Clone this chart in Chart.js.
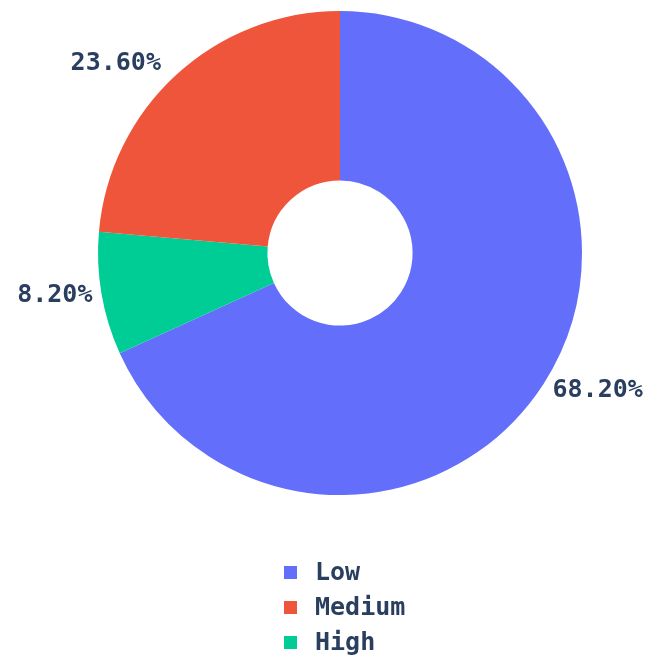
<!DOCTYPE html>
<html>
<head>
<meta charset="utf-8">
<script src="https://cdn.jsdelivr.net/npm/chart.js@4.4.1/dist/chart.umd.min.js"></script>
<style>
  html, body { margin: 0; padding: 0; background: #fff; }
  #wrap { width: 646px; height: 662px; }
</style>
</head>
<body>
<div id="wrap"><canvas id="riskChart" width="646" height="662"></canvas></div>
<script>
// slices run clockwise from 12 o'clock
const categories = ["Low", "High", "Medium"];
const shares = [68.2, 8.2, 23.6];
const sliceColors = ["#636efa", "#00cc96", "#EF553B"];
// legend reads top to bottom in this order
const legendOrder = ["Low", "Medium", "High"];

const TEXT_COLOR = "#2a3f5f";
const FONT = "bold 25px 'DejaVu Sans Mono', monospace";

// ----------- percent labels outside each slice ------------
const outsideLabels = {
  id: "outsideLabels",
  afterDatasetsDraw(chart) {
    const { ctx } = chart;
    const meta = chart.getDatasetMeta(0);
    ctx.save();
    ctx.font = FONT;
    ctx.fillStyle = TEXT_COLOR;
    ctx.textAlign = "center";
    ctx.textBaseline = "middle";
    meta.data.forEach((arc, i) => {
      const mid = (arc.startAngle + arc.endAngle) / 2;
      const dx = Math.cos(mid), dy = Math.sin(mid);
      const px = arc.x + dx * arc.outerRadius;
      const py = arc.y + dy * arc.outerRadius;
      const text = shares[i].toFixed(2) + "%";
      const w = ctx.measureText(text).width;
      // push sideways past the edge, a bit more for labels above the middle
      const gap = 9 + 9 * Math.max(0, -dy);
      const cx = px + Math.sign(dx) * (w / 2 + gap);
      const cy = py + dy * 14 - 1;
      ctx.fillText(text, cx, cy);
    });
    ctx.restore();
  },
};

// ----------- vertical legend under the doughnut ------------
const stackedLegend = {
  id: "stackedLegend",
  afterDraw(chart) {
    const { ctx } = chart;
    ctx.save();
    ctx.font = FONT;
    ctx.textAlign = "left";
    ctx.textBaseline = "middle";
    legendOrder.forEach((name, row) => {
      const idx = categories.indexOf(name);
      const y = 572 + row * 35;
      ctx.fillStyle = sliceColors[idx];
      ctx.fillRect(284, y - 6, 13, 13);
      ctx.fillStyle = TEXT_COLOR;
      ctx.fillText(name, 315, y + 1);
    });
    ctx.restore();
  },
};

new Chart(document.getElementById("riskChart"), {
  type: "doughnut",
  data: {
    labels: categories,
    datasets: [
      {
        data: shares,
        backgroundColor: sliceColors,
        borderWidth: 0,
        hoverOffset: 0,
      },
    ],
  },
  options: {
    responsive: false,
    animation: false,
    cutout: "30%",
    layout: { padding: { left: 98, right: 64, top: 11, bottom: 167 } },
    plugins: {
      legend: { display: false },
      tooltip: { enabled: false },
    },
  },
  plugins: [outsideLabels, stackedLegend],
});
</script>
</body>
</html>
